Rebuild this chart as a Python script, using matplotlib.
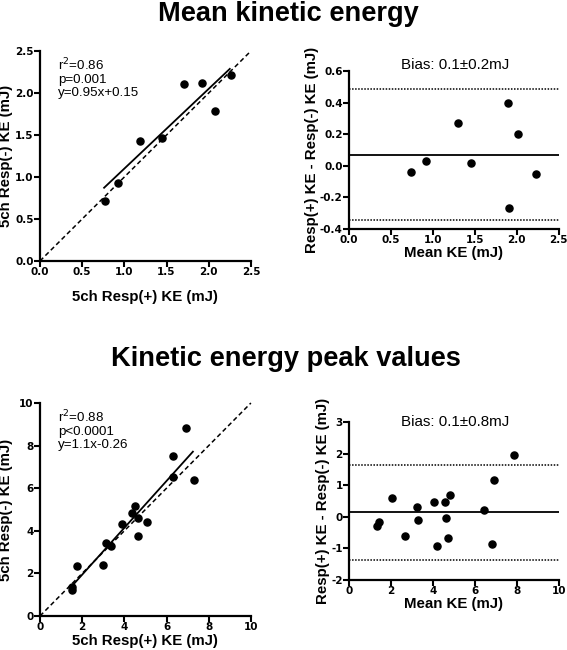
import numpy as np
import matplotlib
matplotlib.use("Agg")
import matplotlib.pyplot as plt

plt.rcParams['font.family'] = ['Liberation Sans', 'DejaVu Sans']

# mean kinetic energy: correlation
mean_x = [0.77, 0.92, 1.18, 1.45, 1.71, 1.92, 2.07, 2.27]
mean_y = [0.71, 0.93, 1.43, 1.46, 2.11, 2.12, 1.78, 2.21]
mean_fit = (0.95, 0.15, 0.76, 2.25)  # slope, intercept, x from, x to

# mean kinetic energy: Bland-Altman
ba1_mean = [0.74, 0.92, 1.30, 1.45, 1.90, 2.02, 2.23, 1.91]
ba1_diff = [-0.04, 0.03, 0.27, 0.02, 0.40, 0.20, -0.05, -0.27]
ba1_bias, ba1_lo, ba1_hi = 0.07, -0.345, 0.485

# peak values: correlation
peak_x = [1.50, 1.52, 1.76, 2.98, 3.13, 3.39, 3.89, 4.38, 4.49, 4.64, 4.67, 5.08,
          6.33, 6.33, 6.90, 7.28]
peak_y = [1.22, 1.36, 2.37, 2.38, 3.43, 3.28, 4.34, 4.82, 5.18, 4.60, 3.75, 4.41,
          6.53, 7.49, 8.82, 6.39]
peak_fit = (1.1, -0.26, 1.5, 7.25)

# peak values: Bland-Altman
ba2_mean = [1.32, 1.43, 2.03, 2.65, 3.25, 3.31, 4.07, 4.18, 4.58, 4.61, 4.74, 4.80,
            6.42, 6.89, 6.82, 7.86]
ba2_diff = [-0.28, -0.16, 0.61, -0.60, 0.30, -0.10, 0.46, -0.91, 0.46, -0.03,
            -0.66, 0.70, 0.23, 1.18, -0.86, 1.96]
ba2_bias, ba2_lo, ba2_hi = 0.15, -1.36, 1.64

fig = plt.figure(figsize=(5.67, 6.5), dpi=100)


def style(ax, xticks, yticks, xfmt, yfmt):
    for s in ['top', 'right']:
        ax.spines[s].set_visible(False)
    for s in ['left', 'bottom']:
        ax.spines[s].set_linewidth(1.6)
    ax.set_xticks(xticks)
    ax.set_yticks(yticks)
    ax.set_xticklabels([xfmt.format(t) for t in xticks])
    ax.set_yticklabels([yfmt.format(t) for t in yticks])
    ax.set_xlim(xticks[0], xticks[-1])
    ax.set_ylim(yticks[0], yticks[-1])
    ax.tick_params(direction='out', length=4, width=1.5, labelsize=7.5, pad=0.5)
    for lab in ax.get_xticklabels() + ax.get_yticklabels():
        lab.set_fontweight('bold')
        lab.set_family('DejaVu Sans')


def corr_panel(rect, x, y, fit, lim, ticks, fmt, stats, xpad):
    ax = fig.add_axes(rect)
    ax.plot([0, lim], [0, lim], ls=(0, (3, 2)), color='black', lw=1.1, clip_on=False)
    k, b, x0, x1 = fit
    ax.plot([x0, x1], [k * x0 + b, k * x1 + b], color='black', lw=1.3)
    ax.scatter(x, y, s=26, color='black', zorder=3, clip_on=False)
    style(ax, ticks, ticks, fmt, fmt)
    ax.set_xlabel('5ch Resp(+) KE (mJ)', fontsize=10.8, fontweight='bold', labelpad=xpad)
    ax.set_ylabel('5ch Resp(-) KE (mJ)', fontsize=10.8, fontweight='bold')
    ax.yaxis.set_label_coords(-0.128, 0.5)
    ax.text(0.085, 0.975, stats, transform=ax.transAxes, fontsize=9.6, va='top',
            linespacing=1.12)
    return ax


def ba_panel(rect, m, d, bias, lo, hi, xticks, yticks, xfmt, yfmt, label, label_y, ylab_x):
    ax = fig.add_axes(rect)
    ax.axhline(bias, color='black', lw=1.3)
    ax.axhline(hi, color='black', lw=1.1, ls=(0, (1, 1)))
    ax.axhline(lo, color='black', lw=1.1, ls=(0, (1, 1)))
    ax.scatter(m, d, s=26, color='black', zorder=3, clip_on=False)
    style(ax, xticks, yticks, xfmt, yfmt)
    ax.set_xlabel('Mean KE (mJ)', fontsize=10.8, fontweight='bold', labelpad=0.5)
    ax.set_ylabel('Resp(+) KE - Resp(-) KE (mJ)', fontsize=10.8, fontweight='bold')
    ax.yaxis.set_label_coords(ylab_x, 0.5)
    ax.text(0.505, label_y, label, transform=ax.transAxes, fontsize=10.9, ha='center',
            va='center')
    return ax


fig.text(0.508, 0.967, 'Mean kinetic energy', fontsize=19.6, fontweight='bold',
         ha='center', va='baseline')
fig.text(0.505, 0.437, 'Kinetic energy peak values', fontsize=19.6, fontweight='bold',
         ha='center', va='baseline')

corr_panel([0.0705, 0.5985, 0.372, 0.323], mean_x, mean_y, mean_fit, 2.5,
           [0.0, 0.5, 1.0, 1.5, 2.0, 2.5], '{:.1f}',
           'r$^2$=0.86\np=0.001\ny=0.95x+0.15', 9.5)
ba_panel([0.6155, 0.6477, 0.370, 0.243], ba1_mean, ba1_diff, ba1_bias, ba1_lo, ba1_hi,
         [0.0, 0.5, 1.0, 1.5, 2.0, 2.5], [-0.4, -0.2, 0.0, 0.2, 0.4, 0.6],
         '{:.1f}', '{:.1f}', 'Bias: 0.1\u00b10.2mJ', 1.038, -0.142)
corr_panel([0.0705, 0.0523, 0.372, 0.3277], peak_x, peak_y, peak_fit, 10,
           [0, 2, 4, 6, 8, 10], '{:d}',
           'r$^2$=0.88\np<0.0001\ny=1.1x-0.26', 1.5)
ba_panel([0.6155, 0.1077, 0.370, 0.243], ba2_mean, ba2_diff, ba2_bias, ba2_lo, ba2_hi,
         [0, 2, 4, 6, 8, 10], [-2, -1, 0, 1, 2, 3],
         '{:d}', '{:d}', 'Bias: 0.1\u00b10.8mJ', 1.0, -0.09)

fig.savefig('out.png', dpi=100)
